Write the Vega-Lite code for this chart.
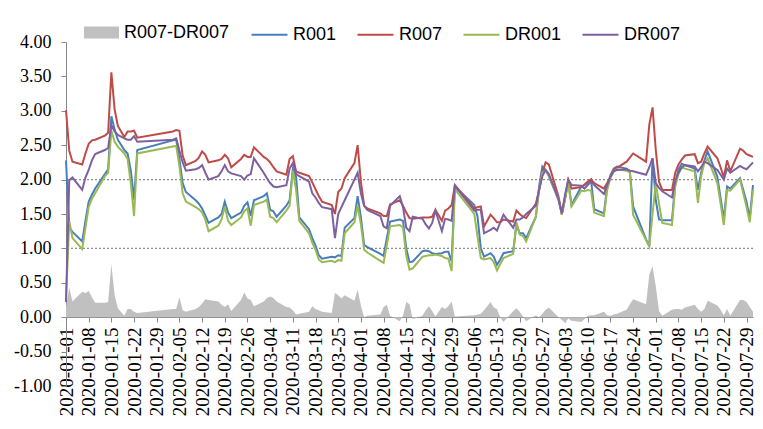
{
  "$schema": "https://vega.github.io/schema/vega-lite/v6.json",
  "autosize": "none",
  "width": 687,
  "height": 344,
  "padding": {"left": 66, "top": 42, "right": 10, "bottom": 43},
  "background": "white",
  "config": {
    "view": {"stroke": null},
    "legend": {"labelFont": "Liberation Sans", "labelFontSize": 18, "labelColor": "black", "padding": 0, "labelOffset": 4, "columnPadding": 16, "titlePadding": 0},
    "axisX": {"offset": -69, "labelAngle": -90, "labelAlign": "right", "labelBaseline": "middle", "labelFont": "Liberation Serif", "labelFontSize": 19, "labelColor": "black", "labelPadding": 5, "tickSize": 5, "tickColor": "#868686", "domainColor": "#868686", "grid": false, "labelOverlap": false, "labelFlush": false},
    "axisY": {"labelOverlap": false, "labelFont": "Liberation Serif", "labelFontSize": 18, "labelColor": "black", "labelPadding": 10, "tickSize": 5, "tickColor": "#868686", "domainColor": "#868686", "grid": false}
  },
  "data": {"values": [
    {"date":"2020-01-01","R001":2.28,"R007":3.01,"DR001":0.25,"DR007":0.22,"S":0.15},
    {"date":"2020-01-02","R001":1.30,"R007":2.42,"DR001":1.40,"DR007":1.99,"S":0.43},
    {"date":"2020-01-03","R001":1.24,"R007":2.26,"DR001":1.15,"DR007":2.03,"S":0.23},
    {"date":"2020-01-06","R001":1.10,"R007":2.22,"DR001":0.99,"DR007":1.85,"S":0.37},
    {"date":"2020-01-07","R001":1.40,"R007":2.38,"DR001":1.30,"DR007":2.03,"S":0.35},
    {"date":"2020-01-08","R001":1.68,"R007":2.52,"DR001":1.60,"DR007":2.14,"S":0.38},
    {"date":"2020-01-09","R001":1.78,"R007":2.57,"DR001":1.72,"DR007":2.28,"S":0.29},
    {"date":"2020-01-10","R001":1.87,"R007":2.58,"DR001":1.80,"DR007":2.37,"S":0.21},
    {"date":"2020-01-13","R001":2.08,"R007":2.64,"DR001":2.05,"DR007":2.43,"S":0.21},
    {"date":"2020-01-14","R001":2.15,"R007":2.68,"DR001":2.10,"DR007":2.46,"S":0.22},
    {"date":"2020-01-15","R001":2.92,"R007":3.56,"DR001":2.71,"DR007":2.79,"S":0.77},
    {"date":"2020-01-16","R001":2.73,"R007":3.02,"DR001":2.55,"DR007":2.70,"S":0.32},
    {"date":"2020-01-17","R001":2.58,"R007":2.78,"DR001":2.48,"DR007":2.65,"S":0.13},
    {"date":"2020-01-19","R001":2.43,"R007":2.62,"DR001":2.38,"DR007":2.60,"S":0.02},
    {"date":"2020-01-20","R001":2.38,"R007":2.70,"DR001":2.30,"DR007":2.58,"S":0.12},
    {"date":"2020-01-21","R001":2.13,"R007":2.70,"DR001":1.95,"DR007":2.58,"S":0.12},
    {"date":"2020-01-22","R001":1.71,"R007":2.71,"DR001":1.47,"DR007":2.63,"S":0.08},
    {"date":"2020-01-23","R001":2.43,"R007":2.61,"DR001":2.38,"DR007":2.55,"S":0.06},
    {"date":"2020-02-03","R001":2.57,"R007":2.70,"DR001":2.48,"DR007":2.58,"S":0.12},
    {"date":"2020-02-04","R001":2.58,"R007":2.72,"DR001":2.49,"DR007":2.60,"S":0.12},
    {"date":"2020-02-05","R001":2.30,"R007":2.71,"DR001":2.20,"DR007":2.42,"S":0.29},
    {"date":"2020-02-06","R001":1.95,"R007":2.35,"DR001":1.80,"DR007":2.25,"S":0.10},
    {"date":"2020-02-07","R001":1.82,"R007":2.21,"DR001":1.68,"DR007":2.13,"S":0.08},
    {"date":"2020-02-10","R001":1.70,"R007":2.27,"DR001":1.60,"DR007":2.15,"S":0.12},
    {"date":"2020-02-11","R001":1.65,"R007":2.32,"DR001":1.57,"DR007":2.17,"S":0.15},
    {"date":"2020-02-12","R001":1.58,"R007":2.41,"DR001":1.52,"DR007":2.21,"S":0.20},
    {"date":"2020-02-13","R001":1.48,"R007":2.36,"DR001":1.42,"DR007":2.10,"S":0.26},
    {"date":"2020-02-14","R001":1.37,"R007":2.25,"DR001":1.25,"DR007":2.00,"S":0.25},
    {"date":"2020-02-17","R001":1.45,"R007":2.28,"DR001":1.33,"DR007":2.05,"S":0.23},
    {"date":"2020-02-18","R001":1.50,"R007":2.30,"DR001":1.42,"DR007":2.12,"S":0.18},
    {"date":"2020-02-19","R001":1.68,"R007":2.36,"DR001":1.61,"DR007":2.21,"S":0.15},
    {"date":"2020-02-20","R001":1.52,"R007":2.31,"DR001":1.40,"DR007":2.12,"S":0.19},
    {"date":"2020-02-21","R001":1.44,"R007":2.18,"DR001":1.34,"DR007":2.09,"S":0.09},
    {"date":"2020-02-24","R001":1.52,"R007":2.30,"DR001":1.45,"DR007":2.05,"S":0.25},
    {"date":"2020-02-25","R001":1.62,"R007":2.36,"DR001":1.54,"DR007":2.00,"S":0.36},
    {"date":"2020-02-26","R001":1.67,"R007":2.33,"DR001":1.58,"DR007":2.06,"S":0.27},
    {"date":"2020-02-27","R001":1.47,"R007":2.33,"DR001":1.33,"DR007":2.08,"S":0.25},
    {"date":"2020-02-28","R001":1.70,"R007":2.47,"DR001":1.63,"DR007":2.31,"S":0.16},
    {"date":"2020-03-02","R001":1.76,"R007":2.33,"DR001":1.68,"DR007":2.10,"S":0.23},
    {"date":"2020-03-03","R001":1.80,"R007":2.30,"DR001":1.71,"DR007":2.02,"S":0.28},
    {"date":"2020-03-04","R001":1.56,"R007":2.25,"DR001":1.46,"DR007":1.95,"S":0.30},
    {"date":"2020-03-05","R001":1.54,"R007":2.18,"DR001":1.44,"DR007":1.90,"S":0.28},
    {"date":"2020-03-06","R001":1.46,"R007":2.12,"DR001":1.38,"DR007":1.89,"S":0.23},
    {"date":"2020-03-09","R001":1.62,"R007":2.07,"DR001":1.55,"DR007":1.92,"S":0.15},
    {"date":"2020-03-10","R001":1.70,"R007":2.30,"DR001":1.62,"DR007":2.16,"S":0.14},
    {"date":"2020-03-11","R001":2.15,"R007":2.34,"DR001":2.13,"DR007":2.24,"S":0.10},
    {"date":"2020-03-12","R001":2.04,"R007":2.12,"DR001":1.85,"DR007":2.08,"S":0.04},
    {"date":"2020-03-13","R001":1.45,"R007":2.10,"DR001":1.40,"DR007":2.05,"S":0.05},
    {"date":"2020-03-16","R001":1.28,"R007":2.05,"DR001":1.22,"DR007":1.97,"S":0.08},
    {"date":"2020-03-17","R001":1.15,"R007":1.96,"DR001":1.08,"DR007":1.80,"S":0.16},
    {"date":"2020-03-18","R001":1.04,"R007":1.86,"DR001":0.98,"DR007":1.74,"S":0.12},
    {"date":"2020-03-19","R001":0.90,"R007":1.76,"DR001":0.84,"DR007":1.66,"S":0.10},
    {"date":"2020-03-20","R001":0.85,"R007":1.68,"DR001":0.80,"DR007":1.60,"S":0.08},
    {"date":"2020-03-23","R001":0.88,"R007":1.63,"DR001":0.82,"DR007":1.57,"S":0.06},
    {"date":"2020-03-24","R001":0.87,"R007":1.50,"DR001":0.80,"DR007":1.15,"S":0.35},
    {"date":"2020-03-25","R001":0.90,"R007":1.82,"DR001":0.83,"DR007":1.50,"S":0.32},
    {"date":"2020-03-26","R001":0.89,"R007":1.87,"DR001":0.82,"DR007":1.60,"S":0.27},
    {"date":"2020-03-27","R001":1.30,"R007":2.02,"DR001":1.22,"DR007":1.70,"S":0.32},
    {"date":"2020-03-30","R001":1.44,"R007":2.24,"DR001":1.38,"DR007":2.00,"S":0.24},
    {"date":"2020-03-31","R001":1.76,"R007":2.50,"DR001":1.62,"DR007":2.10,"S":0.40},
    {"date":"2020-04-01","R001":1.45,"R007":1.97,"DR001":1.35,"DR007":1.80,"S":0.17},
    {"date":"2020-04-02","R001":1.05,"R007":1.62,"DR001":0.98,"DR007":1.62,"S":0.00},
    {"date":"2020-04-03","R001":1.02,"R007":1.58,"DR001":0.94,"DR007":1.56,"S":0.02},
    {"date":"2020-04-07","R001":0.92,"R007":1.51,"DR001":0.82,"DR007":1.47,"S":0.04},
    {"date":"2020-04-08","R001":0.89,"R007":1.47,"DR001":0.79,"DR007":1.32,"S":0.15},
    {"date":"2020-04-09","R001":1.15,"R007":1.47,"DR001":1.05,"DR007":1.29,"S":0.18},
    {"date":"2020-04-10","R001":1.39,"R007":1.64,"DR001":1.32,"DR007":1.62,"S":0.02},
    {"date":"2020-04-13","R001":1.42,"R007":1.70,"DR001":1.34,"DR007":1.76,"S":-0.06},
    {"date":"2020-04-14","R001":1.40,"R007":1.62,"DR001":1.30,"DR007":1.60,"S":0.02},
    {"date":"2020-04-15","R001":1.00,"R007":1.52,"DR001":0.90,"DR007":1.30,"S":0.22},
    {"date":"2020-04-16","R001":0.80,"R007":1.44,"DR001":0.69,"DR007":1.25,"S":0.19},
    {"date":"2020-04-17","R001":0.81,"R007":1.43,"DR001":0.71,"DR007":1.46,"S":-0.03},
    {"date":"2020-04-20","R001":0.96,"R007":1.45,"DR001":0.88,"DR007":1.43,"S":0.02},
    {"date":"2020-04-21","R001":0.97,"R007":1.45,"DR001":0.89,"DR007":1.35,"S":0.10},
    {"date":"2020-04-22","R001":0.96,"R007":1.45,"DR001":0.90,"DR007":1.29,"S":0.16},
    {"date":"2020-04-23","R001":0.93,"R007":1.46,"DR001":0.90,"DR007":1.37,"S":0.09},
    {"date":"2020-04-24","R001":0.92,"R007":1.56,"DR001":0.91,"DR007":1.55,"S":0.01},
    {"date":"2020-04-26","R001":0.93,"R007":1.40,"DR001":0.89,"DR007":1.25,"S":0.15},
    {"date":"2020-04-27","R001":0.95,"R007":1.55,"DR001":0.86,"DR007":1.43,"S":0.12},
    {"date":"2020-04-28","R001":0.95,"R007":1.58,"DR001":0.85,"DR007":1.42,"S":0.16},
    {"date":"2020-04-29","R001":0.81,"R007":1.63,"DR001":0.67,"DR007":1.40,"S":0.23},
    {"date":"2020-04-30","R001":1.90,"R007":1.92,"DR001":1.86,"DR007":1.91,"S":0.01},
    {"date":"2020-05-06","R001":1.63,"R007":1.58,"DR001":1.50,"DR007":1.55,"S":0.03},
    {"date":"2020-05-07","R001":1.46,"R007":1.60,"DR001":1.17,"DR007":1.56,"S":0.04},
    {"date":"2020-05-08","R001":1.00,"R007":1.61,"DR001":0.86,"DR007":1.56,"S":0.05},
    {"date":"2020-05-09","R001":0.88,"R007":1.32,"DR001":0.84,"DR007":1.22,"S":0.10},
    {"date":"2020-05-11","R001":0.93,"R007":1.49,"DR001":0.86,"DR007":1.27,"S":0.22},
    {"date":"2020-05-12","R001":0.88,"R007":1.44,"DR001":0.80,"DR007":1.30,"S":0.14},
    {"date":"2020-05-13","R001":0.76,"R007":1.38,"DR001":0.68,"DR007":1.26,"S":0.12},
    {"date":"2020-05-14","R001":0.84,"R007":1.38,"DR001":0.77,"DR007":1.38,"S":0.00},
    {"date":"2020-05-15","R001":0.93,"R007":1.42,"DR001":0.86,"DR007":1.49,"S":-0.07},
    {"date":"2020-05-18","R001":0.96,"R007":1.39,"DR001":0.92,"DR007":1.30,"S":0.09},
    {"date":"2020-05-19","R001":1.35,"R007":1.55,"DR001":1.38,"DR007":1.42,"S":0.13},
    {"date":"2020-05-20","R001":1.22,"R007":1.50,"DR001":1.20,"DR007":1.42,"S":0.08},
    {"date":"2020-05-21","R001":1.22,"R007":1.46,"DR001":1.18,"DR007":1.45,"S":0.01},
    {"date":"2020-05-22","R001":1.15,"R007":1.44,"DR001":1.10,"DR007":1.50,"S":-0.06},
    {"date":"2020-05-25","R001":1.46,"R007":1.65,"DR001":1.46,"DR007":1.62,"S":0.03},
    {"date":"2020-05-26","R001":1.90,"R007":1.85,"DR001":1.85,"DR007":1.85,"S":0.00},
    {"date":"2020-05-27","R001":2.19,"R007":2.10,"DR001":2.10,"DR007":2.05,"S":0.05},
    {"date":"2020-05-28","R001":2.14,"R007":2.25,"DR001":2.14,"DR007":2.14,"S":0.11},
    {"date":"2020-05-29","R001":2.05,"R007":2.22,"DR001":2.05,"DR007":2.08,"S":0.14},
    {"date":"2020-06-01","R001":1.70,"R007":1.75,"DR001":1.72,"DR007":1.72,"S":0.00},
    {"date":"2020-06-02","R001":1.51,"R007":1.49,"DR001":1.49,"DR007":1.51,"S":-0.04},
    {"date":"2020-06-03","R001":1.74,"R007":1.72,"DR001":1.72,"DR007":1.78,"S":-0.08},
    {"date":"2020-06-04","R001":1.97,"R007":2.00,"DR001":1.95,"DR007":2.00,"S":-0.02},
    {"date":"2020-06-05","R001":1.63,"R007":1.87,"DR001":1.61,"DR007":1.92,"S":-0.05},
    {"date":"2020-06-08","R001":1.90,"R007":1.89,"DR001":1.84,"DR007":1.91,"S":-0.07},
    {"date":"2020-06-09","R001":1.92,"R007":1.93,"DR001":1.83,"DR007":1.87,"S":-0.03},
    {"date":"2020-06-10","R001":1.95,"R007":1.97,"DR001":1.85,"DR007":1.92,"S":0.02},
    {"date":"2020-06-11","R001":2.00,"R007":2.00,"DR001":1.84,"DR007":1.97,"S":0.03},
    {"date":"2020-06-12","R001":1.57,"R007":1.95,"DR001":1.52,"DR007":1.92,"S":0.03},
    {"date":"2020-06-15","R001":1.51,"R007":1.87,"DR001":1.47,"DR007":1.79,"S":0.08},
    {"date":"2020-06-16","R001":1.90,"R007":1.95,"DR001":1.85,"DR007":1.92,"S":0.03},
    {"date":"2020-06-17","R001":2.06,"R007":2.04,"DR001":2.02,"DR007":2.04,"S":0.02},
    {"date":"2020-06-18","R001":2.16,"R007":2.14,"DR001":2.12,"DR007":2.12,"S":0.04},
    {"date":"2020-06-19","R001":2.19,"R007":2.17,"DR001":2.15,"DR007":2.14,"S":0.05},
    {"date":"2020-06-22","R001":2.16,"R007":2.26,"DR001":2.13,"DR007":2.15,"S":0.11},
    {"date":"2020-06-23","R001":2.12,"R007":2.32,"DR001":2.10,"DR007":2.13,"S":0.19},
    {"date":"2020-06-24","R001":1.61,"R007":2.38,"DR001":1.49,"DR007":2.12,"S":0.26},
    {"date":"2020-06-28","R001":1.13,"R007":2.26,"DR001":1.12,"DR007":2.07,"S":0.19},
    {"date":"2020-06-29","R001":1.03,"R007":2.80,"DR001":1.03,"DR007":2.18,"S":0.62},
    {"date":"2020-06-30","R001":2.31,"R007":3.05,"DR001":1.50,"DR007":2.31,"S":0.74},
    {"date":"2020-07-01","R001":1.70,"R007":2.43,"DR001":1.95,"DR007":1.95,"S":0.45},
    {"date":"2020-07-02","R001":1.42,"R007":1.97,"DR001":1.65,"DR007":1.88,"S":0.09},
    {"date":"2020-07-03","R001":1.41,"R007":1.85,"DR001":1.37,"DR007":1.83,"S":0.02},
    {"date":"2020-07-06","R001":1.41,"R007":1.85,"DR001":1.34,"DR007":1.74,"S":0.11},
    {"date":"2020-07-07","R001":1.95,"R007":2.10,"DR001":1.90,"DR007":1.98,"S":0.12},
    {"date":"2020-07-08","R001":2.15,"R007":2.22,"DR001":2.08,"DR007":2.10,"S":0.12},
    {"date":"2020-07-09","R001":2.23,"R007":2.29,"DR001":2.18,"DR007":2.18,"S":0.11},
    {"date":"2020-07-10","R001":2.21,"R007":2.35,"DR001":2.16,"DR007":2.21,"S":0.14},
    {"date":"2020-07-13","R001":2.16,"R007":2.37,"DR001":2.12,"DR007":2.19,"S":0.18},
    {"date":"2020-07-14","R001":1.85,"R007":2.24,"DR001":1.66,"DR007":2.12,"S":0.12},
    {"date":"2020-07-15","R001":2.10,"R007":2.26,"DR001":2.05,"DR007":2.18,"S":0.08},
    {"date":"2020-07-16","R001":2.28,"R007":2.38,"DR001":2.25,"DR007":2.26,"S":0.12},
    {"date":"2020-07-17","R001":2.41,"R007":2.48,"DR001":2.31,"DR007":2.24,"S":0.24},
    {"date":"2020-07-20","R001":2.04,"R007":2.31,"DR001":1.95,"DR007":2.14,"S":0.17},
    {"date":"2020-07-21","R001":1.73,"R007":2.18,"DR001":1.65,"DR007":2.07,"S":0.11},
    {"date":"2020-07-22","R001":1.42,"R007":2.03,"DR001":1.34,"DR007":2.00,"S":0.03},
    {"date":"2020-07-23","R001":1.90,"R007":2.28,"DR001":1.85,"DR007":2.16,"S":0.12},
    {"date":"2020-07-24","R001":1.87,"R007":2.12,"DR001":1.84,"DR007":2.10,"S":0.02},
    {"date":"2020-07-27","R001":2.02,"R007":2.45,"DR001":2.00,"DR007":2.20,"S":0.25},
    {"date":"2020-07-28","R001":1.85,"R007":2.42,"DR001":1.80,"DR007":2.17,"S":0.25},
    {"date":"2020-07-29","R001":1.68,"R007":2.37,"DR001":1.60,"DR007":2.15,"S":0.22},
    {"date":"2020-07-30","R001":1.44,"R007":2.35,"DR001":1.38,"DR007":2.20,"S":0.15},
    {"date":"2020-07-31","R001":1.92,"R007":2.33,"DR001":1.85,"DR007":2.25,"S":0.08}
  ]},
  "params": [
    {"name": "wk", "value": [1577836800000, 1578441600000, 1579046400000, 1579651200000, 1580256000000, 1580860800000, 1581465600000, 1582070400000, 1582675200000, 1583280000000, 1583884800000, 1584489600000, 1585094400000, 1585699200000, 1586304000000, 1586908800000, 1587513600000, 1588118400000, 1588723200000, 1589328000000, 1589932800000, 1590537600000, 1591142400000, 1591747200000, 1592352000000, 1592956800000, 1593561600000, 1594166400000, 1594771200000, 1595376000000, 1595980800000]},
    {"name": "yv", "value": [-1, -0.5, 0, 0.5, 1, 1.5, 2, 2.5, 3, 3.5, 4]}
  ],
  "layer": [
    {
      "mark": {"type": "area", "opacity": 1},
      "encoding": {
        "x": {"field": "date", "type": "temporal", "title": null,
          "scale": {"type": "utc", "nice": false, "domain": [{"year": 2020, "month": 1, "date": 1, "utc": true}, {"year": 2020, "month": 7, "date": 31, "utc": true}]},
          "axis": {"title": null, "labelExpr": "utcFormat(datum.value, '%Y-%m-%d')", "values": {"signal": "wk"}}},
        "y": {"field": "S", "type": "quantitative", "title": null,
          "scale": {"domain": [-1, 4], "nice": false, "zero": false},
          "axis": {"title": null, "values": {"signal": "yv"}, "labelExpr": "replace(format(datum.value, '.2f'), '\u2212', '-')"}},
        "fill": {"datum": "R007-DR007", "type": "nominal",
          "scale": {"domain": ["R007-DR007"], "range": ["#C0C0C0"]},
          "legend": {"title": null, "orient": "none", "legendX": 18, "legendY": -27, "symbolType": "M-1,-0.34H1V0.34H-1Z", "symbolSize": 1225, "symbolStrokeWidth": 0, "symbolOpacity": 1, "labelOffset": 5}}
      }
    },
    {
      "data": {"values": [{"v": 1}, {"v": 2}]},
      "mark": {"type": "rule", "color": "#8c8c8c", "strokeDash": [2, 2], "strokeWidth": 1.3},
      "encoding": {"y": {"field": "v", "type": "quantitative", "title": null, "axis": {"title": null, "values": {"signal": "yv"}, "labelExpr": "replace(format(datum.value, '.2f'), '\u2212', '-')"}}}
    },
    {
      "mark": {"type": "line", "strokeWidth": 2},
      "encoding": {
        "x": {"field": "date", "type": "temporal", "title": null, "axis": {"title": null, "labelExpr": "utcFormat(datum.value, '%Y-%m-%d')", "values": {"signal": "wk"}}},
        "y": {"field": "R001", "type": "quantitative", "title": null, "axis": {"title": null, "values": {"signal": "yv"}, "labelExpr": "replace(format(datum.value, '.2f'), '\u2212', '-')"}},
        "stroke": {"datum": "R001", "type": "nominal",
          "scale": {"domain": ["R001", "R007", "DR001", "DR007"], "range": ["#4A7EBB", "#BE4B48", "#98B954", "#7D60A0"]},
          "legend": {"title": null, "orient": "none", "direction": "horizontal", "legendX": 184, "legendY": -27, "symbolType": "stroke", "symbolSize": 1296, "symbolStrokeWidth": 2.2}}
      }
    },
    {
      "mark": {"type": "line", "strokeWidth": 2},
      "encoding": {
        "x": {"field": "date", "type": "temporal", "title": null, "axis": {"title": null, "labelExpr": "utcFormat(datum.value, '%Y-%m-%d')", "values": {"signal": "wk"}}},
        "y": {"field": "R007", "type": "quantitative", "title": null, "axis": {"title": null, "values": {"signal": "yv"}, "labelExpr": "replace(format(datum.value, '.2f'), '\u2212', '-')"}},
        "stroke": {"datum": "R007", "type": "nominal"}
      }
    },
    {
      "mark": {"type": "line", "strokeWidth": 2},
      "encoding": {
        "x": {"field": "date", "type": "temporal", "title": null, "axis": {"title": null, "labelExpr": "utcFormat(datum.value, '%Y-%m-%d')", "values": {"signal": "wk"}}},
        "y": {"field": "DR001", "type": "quantitative", "title": null, "axis": {"title": null, "values": {"signal": "yv"}, "labelExpr": "replace(format(datum.value, '.2f'), '\u2212', '-')"}},
        "stroke": {"datum": "DR001", "type": "nominal"}
      }
    },
    {
      "mark": {"type": "line", "strokeWidth": 2},
      "encoding": {
        "x": {"field": "date", "type": "temporal", "title": null, "axis": {"title": null, "labelExpr": "utcFormat(datum.value, '%Y-%m-%d')", "values": {"signal": "wk"}}},
        "y": {"field": "DR007", "type": "quantitative", "title": null, "axis": {"title": null, "values": {"signal": "yv"}, "labelExpr": "replace(format(datum.value, '.2f'), '\u2212', '-')"}},
        "stroke": {"datum": "DR007", "type": "nominal"}
      }
    }
  ]
}
